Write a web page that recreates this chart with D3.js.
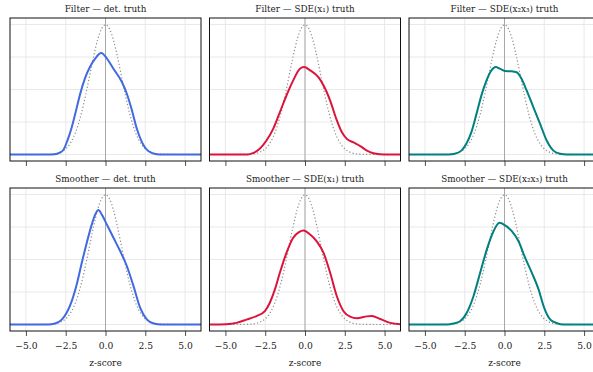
<!DOCTYPE html>
<html>
<head>
<meta charset="utf-8">
<script src="https://cdn.jsdelivr.net/npm/d3@7"></script>
<style>
  body { margin: 0; background: #fff; }
  text { font-family: "DejaVu Serif", "Liberation Serif", serif; }
</style>
</head>
<body>
<script>
// panel titles (row-major)
const titles = [
  "Filter — det. truth", "Filter — SDE(x₁) truth", "Filter — SDE(x₂x₃) truth",
  "Smoother — det. truth", "Smoother — SDE(x₁) truth", "Smoother — SDE(x₂x₃) truth"
];
const xTicks = [-5, -2.5, 0, 2.5, 5];
const yGrid = [0, 0.1, 0.2, 0.3, 0.4];

// standard normal reference, read as [z, density]
const refNormal = [[-6,0],[-4,0.0001],[-3.5,0.0009],[-3,0.0044],[-2.75,0.0091],[-2.5,0.0175],[-2.25,0.0317],[-2,0.054],
  [-1.75,0.0863],[-1.5,0.1295],[-1.25,0.1826],[-1,0.242],[-0.75,0.3011],[-0.5,0.3521],[-0.25,0.3867],[0,0.3989],
  [0.25,0.3867],[0.5,0.3521],[0.75,0.3011],[1,0.242],[1.25,0.1826],[1.5,0.1295],[1.75,0.0863],[2,0.054],
  [2.25,0.0317],[2.5,0.0175],[2.75,0.0091],[3,0.0044],[3.5,0.0009],[4,0.0001],[6,0]];

const filterDet = [[-6,0],[-3.6,0],[-3.2,0.001],[-2.9,0.005],[-2.65,0.014],[-2.4,0.042],[-2.12,0.084],[-1.85,0.135],
  [-1.6,0.185],[-1.28,0.236],[-0.97,0.27],[-0.65,0.295],[-0.27,0.312],[0.08,0.296],[0.5,0.264],[1.03,0.223],
  [1.34,0.187],[1.66,0.136],[1.97,0.079],[2.29,0.038],[2.71,0.01],[3.2,0.001],[3.6,0],[6,0]];
const filterX1 = [[-6,0],[-3.6,0],[-3.28,0.004],[-2.86,0.017],[-2.42,0.043],[-2,0.079],[-1.58,0.13],[-1.16,0.182],
  [-0.74,0.228],[-0.32,0.264],[-0.06,0.269],[0.32,0.259],[0.84,0.238],[1.16,0.213],[1.58,0.166],[2,0.105],
  [2.31,0.069],[2.63,0.048],[3.05,0.037],[3.47,0.026],[3.89,0.012],[4.3,0.004],[4.7,0.001],[5.2,0],[6,0]];
const filterX2X3 = [[-6,0],[-3.5,0],[-3.13,0.002],[-2.71,0.012],[-2.4,0.033],[-2.08,0.069],[-1.76,0.125],[-1.45,0.182],
  [-1.13,0.228],[-0.82,0.259],[-0.55,0.269],[-0.29,0.264],[0.02,0.257],[0.44,0.256],[0.76,0.253],[1.07,0.233],
  [1.39,0.197],[1.81,0.146],[2.23,0.095],[2.65,0.043],[3.07,0.012],[3.49,0.002],[3.9,0],[6,0]];
const smoothDet = [[-6,0],[-3.6,0],[-3.17,0.003],[-2.75,0.015],[-2.44,0.036],[-2.12,0.072],[-1.81,0.123],[-1.49,0.19],
  [-1.18,0.251],[-0.86,0.308],[-0.65,0.338],[-0.44,0.352],[-0.23,0.338],[0.08,0.308],[0.5,0.267],[0.92,0.226],
  [1.34,0.18],[1.76,0.118],[2.18,0.051],[2.61,0.015],[3.03,0.003],[3.5,0],[6,0]];
const smoothX1 = [[-6,0],[-4.94,0.001],[-4.31,0.005],[-3.68,0.015],[-3.05,0.026],[-2.52,0.041],[-2.21,0.067],[-1.89,0.108],
  [-1.58,0.159],[-1.16,0.221],[-0.74,0.267],[-0.38,0.284],[-0.1,0.289],[0.32,0.277],[0.74,0.256],[1.16,0.221],
  [1.58,0.159],[2,0.087],[2.42,0.041],[2.84,0.024],[3.26,0.019],[3.89,0.025],[4.2,0.026],[4.73,0.017],[5.36,0.005],[6,0.001]];
const smoothX2X3 = [[-6,0],[-3.6,0],[-3.21,0.003],[-2.79,0.01],[-2.37,0.036],[-1.95,0.087],[-1.53,0.159],[-1.11,0.231],
  [-0.69,0.287],[-0.32,0.313],[0.04,0.305],[0.46,0.287],[0.88,0.256],[1.3,0.205],[1.72,0.159],[2.14,0.108],
  [2.46,0.056],[2.88,0.015],[3.3,0.004],[3.7,0],[6,0]];

const series = [filterDet, filterX1, filterX2X3, smoothDet, smoothX1, smoothX2X3];
const colors = ["#4169e1", "#dc143c", "#008080"];

const W = 593, H = 372;
const colX = [10, 209.5, 409];
const rowY = [18, 188];
const pw = 191, ph = 143;

const svg = d3.select("body").append("svg")
  .attr("width", W)
  .attr("height", H);

const x = d3.scaleLinear().domain([-6, 6]).range([0, pw]);
const y = d3.scaleLinear().domain([-0.02, 0.42]).range([ph, 0]);

const line = d3.line()
  .x(d => x(d[0]))
  .y(d => y(d[1]))
  .curve(d3.curveMonotoneX);

series.forEach(function(data, i) {
  const row = Math.floor(i / 3), col = i % 3;
  const g = svg.append("g").attr("transform", `translate(${colX[col]},${rowY[row]})`);
  const clipId = "clip" + i;
  g.append("clipPath").attr("id", clipId)
    .append("rect").attr("width", pw).attr("height", ph);

  const plot = g.append("g").attr("clip-path", `url(#${clipId})`);

  // grid
  plot.selectAll(".gx").data(xTicks).enter().append("line")
    .attr("x1", d => x(d)).attr("x2", d => x(d))
    .attr("y1", 0).attr("y2", ph)
    .attr("stroke", "#e3e3e3").attr("stroke-width", 0.8);
  plot.selectAll(".gy").data(yGrid).enter().append("line")
    .attr("x1", 0).attr("x2", pw)
    .attr("y1", d => y(d)).attr("y2", d => y(d))
    .attr("stroke", "#e3e3e3").attr("stroke-width", 0.8);

  // zero line
  plot.append("line")
    .attr("x1", x(0)).attr("x2", x(0))
    .attr("y1", 0).attr("y2", ph)
    .attr("stroke", "#a8a8a8").attr("stroke-width", 1);

  // reference normal
  plot.append("path")
    .datum(refNormal)
    .attr("d", line)
    .attr("fill", "none")
    .attr("stroke", "#8c8c8c")
    .attr("stroke-width", 1.2)
    .attr("stroke-dasharray", "1.2,2.2");

  plot.append("path")
    .datum(data)
    .attr("d", line)
    .attr("fill", "none")
    .attr("stroke", colors[col])
    .attr("stroke-width", 2)
    .attr("stroke-linejoin", "round");

  // frame
  g.append("rect")
    .attr("width", pw).attr("height", ph)
    .attr("fill", "none").attr("stroke", "#111").attr("stroke-width", 1);

  // x axis ticks
  const ax = g.append("g")
    .attr("transform", `translate(0,${ph})`)
    .call(d3.axisBottom(x).tickValues(xTicks).tickSize(5).tickPadding(6.5)
      .tickFormat(row === 1 ? d3.format(".1f") : ""));
  ax.select(".domain").remove();
  ax.selectAll(".tick line").attr("stroke", "#222").attr("stroke-width", 0.8);
  ax.selectAll(".tick text")
    .attr("fill", "#222")
    .style("font-family", "'DejaVu Serif', serif")
    .style("font-size", "9.2px");

  g.append("text")
    .attr("x", pw / 2).attr("y", -6.5)
    .attr("text-anchor", "middle")
    .attr("fill", "#222")
    .style("font-size", "8.8px")
    .text(titles[i]);

  if (row === 1) {
    g.append("text")
      .attr("x", pw / 2).attr("y", ph + 35)
      .attr("text-anchor", "middle")
      .attr("fill", "#222")
      .style("font-size", "9px")
      .text("z-score");
  }
});
</script>
</body>
</html>
